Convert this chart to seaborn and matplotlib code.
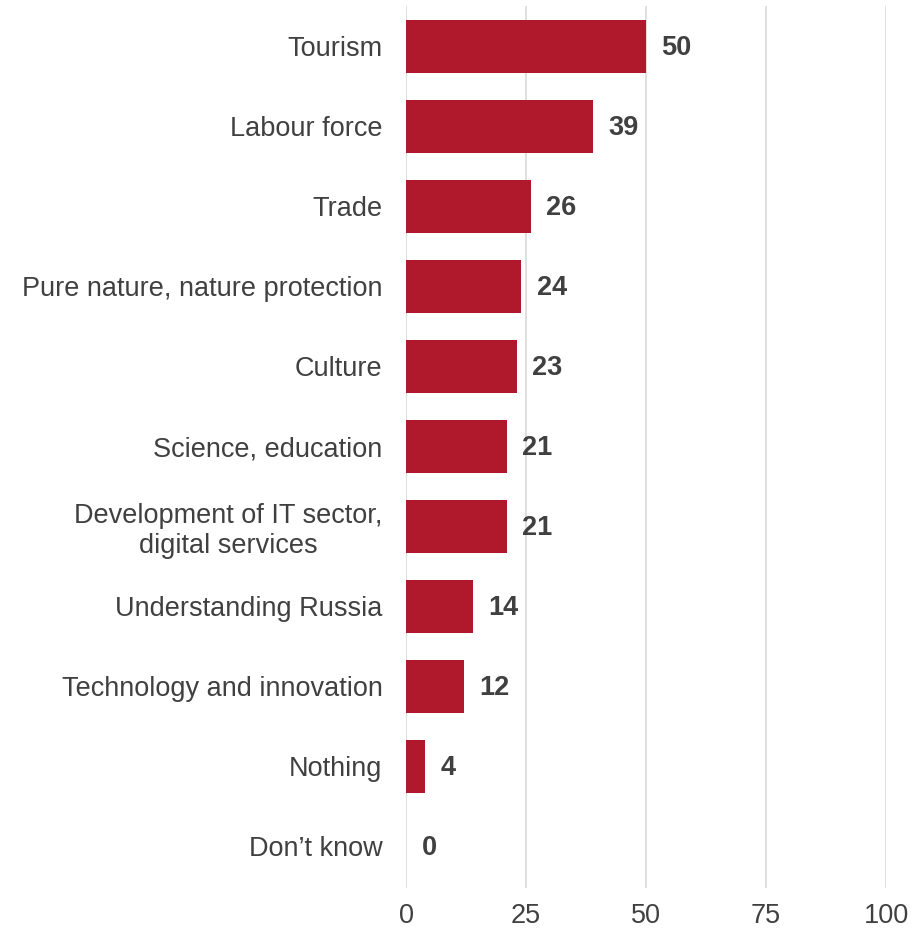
import matplotlib
matplotlib.use("Agg")
import matplotlib.pyplot as plt
import seaborn as sns
import pandas as pd

categories = [
    "Tourism",
    "Labour force",
    "Trade",
    "Pure nature, nature protection",
    "Culture",
    "Science, education",
    "Development of IT sector,\ndigital services",
    "Understanding Russia",
    "Technology and innovation",
    "Nothing",
    "Don\u2019t know",
]
values = [50, 39, 26, 24, 23, 21, 21, 14, 12, 4, 0]
x_ticks = [0, 25, 50, 75, 100]

BAR = "#B0182B"
TEXT = "#404040"
GRID = "#D9D9D9"

sns.set_theme(style="white")
plt.rcParams["font.family"] = ["Liberation Sans", "DejaVu Sans"]

df = pd.DataFrame({"category": categories, "value": values})

fig = plt.figure(figsize=(9.23, 9.31), dpi=100)
ax = fig.add_axes([0.44, 0.0462, 0.52, 0.9474])

sns.barplot(data=df, x="value", y="category", orient="h", color=BAR,
            saturation=1, width=0.66, linewidth=0, ax=ax, zorder=3)

for patch, v in zip(ax.patches, values):
    y = patch.get_y() + patch.get_height() / 2
    ax.annotate(f"{v}", xy=(v, y), xytext=(11, -1), textcoords="offset points",
                ha="left", va="center", fontsize=19.5, fontweight="bold",
                color=TEXT)

ax.set_xlim(0, 100)
ax.set_ylim(10.52, -0.505)
ax.set_xticks(x_ticks)
ax.set_xticklabels([str(t) for t in x_ticks])
ax.xaxis.grid(True, color=GRID, linewidth=1.2, zorder=0)
ax.yaxis.grid(False)
ax.set_axisbelow(True)
for s in ax.spines.values():
    s.set_visible(False)
ax.set_xlabel("")
ax.set_ylabel("")
ax.tick_params(axis="x", length=0, pad=11, labelsize=19.5, labelcolor=TEXT)
ax.tick_params(axis="y", length=0, pad=17, labelsize=19.5, labelcolor=TEXT)
for lbl in ax.get_yticklabels():
    lbl.set_multialignment("center")

fig.savefig("out.png", dpi=100, facecolor="white")
